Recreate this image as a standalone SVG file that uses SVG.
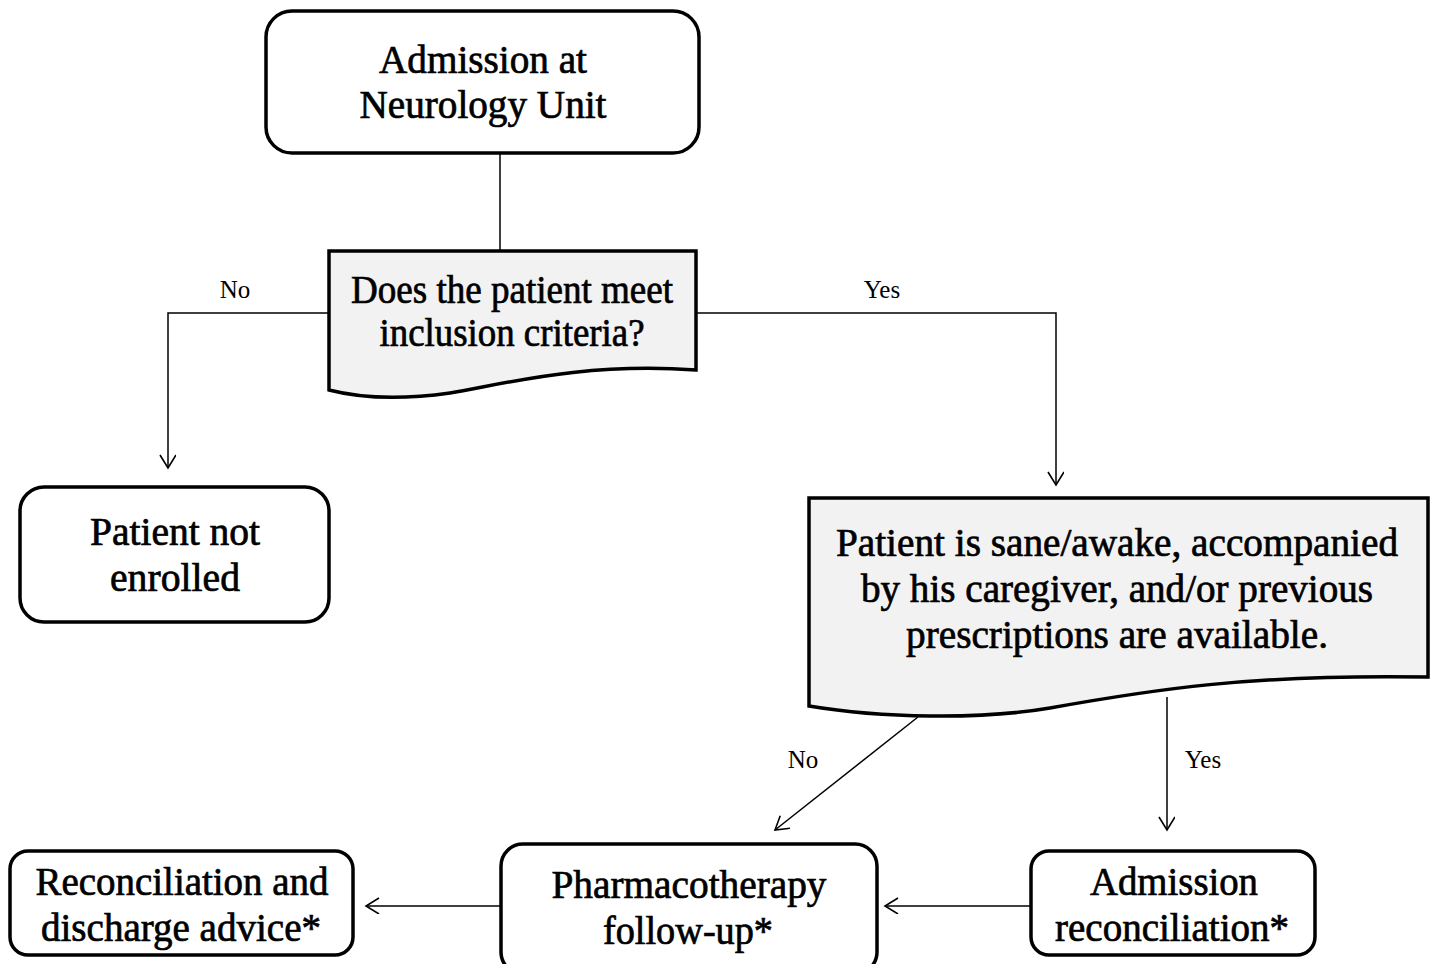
<svg xmlns="http://www.w3.org/2000/svg" width="1432" height="964" viewBox="0 0 1432 964">
<style>
.box{fill:#fff;stroke:#000;stroke-width:3.5}
.doc{fill:#f2f2f2;stroke:#000;stroke-width:3.5;stroke-linejoin:miter}
.t{font-family:"Liberation Serif","Times New Roman",serif;font-size:39px;fill:#000;stroke:#000;stroke-width:0.7;text-anchor:middle}
.l{font-family:"Liberation Serif","Times New Roman",serif;font-size:25px;fill:#000;text-anchor:middle}
.c{fill:none;stroke:#000;stroke-width:1.5}
</style>
<defs>
<marker id="ah" markerWidth="20" markerHeight="20" refX="15" refY="8" orient="auto" markerUnits="userSpaceOnUse">
<path d="M2,0 L15,8 L2,16" fill="none" stroke="#000" stroke-width="1.6"/>
</marker>
</defs>
<rect width="1432" height="964" fill="#fff"/>
<g id="connectors">
<line class="c" x1="500" y1="153" x2="500" y2="251"/>
<polyline class="c" points="329,313 168,313 168,468" marker-end="url(#ah)"/>
<polyline class="c" points="696,313 1056,313 1056,485" marker-end="url(#ah)"/>
<line class="c" x1="918" y1="717" x2="775" y2="830" marker-end="url(#ah)"/>
<line class="c" x1="1167" y1="697" x2="1167" y2="830" marker-end="url(#ah)"/>
<line class="c" x1="1031" y1="906" x2="885" y2="906" marker-end="url(#ah)"/>
<line class="c" x1="501" y1="906" x2="366" y2="906" marker-end="url(#ah)"/>
<text class="l" x="235" y="298">No</text>
<text class="l" x="882" y="298">Yes</text>
<text class="l" x="803" y="768">No</text>
<text class="l" x="1203" y="768">Yes</text>
</g>
<g id="admission">
<rect class="box" x="266" y="11" width="433" height="142" rx="26"/>
<text class="t" x="483" y="73" textLength="208" lengthAdjust="spacingAndGlyphs">Admission at</text>
<text class="t" x="483" y="118" textLength="247" lengthAdjust="spacingAndGlyphs">Neurology Unit</text>
</g>
<g id="decision">
<path class="doc" d="M329,251 H696 V370 C 580,362 500,385 450,393 C 400,400 360,398 329,390 Z"/>
<text class="t" x="512" y="303" textLength="322" lengthAdjust="spacingAndGlyphs">Does the patient meet</text>
<text class="t" x="512" y="346" textLength="265" lengthAdjust="spacingAndGlyphs">inclusion criteria?</text>
</g>
<g id="not-enrolled">
<rect class="box" x="20" y="487" width="309" height="135" rx="24"/>
<text class="t" x="175" y="545" textLength="170" lengthAdjust="spacingAndGlyphs">Patient not</text>
<text class="t" x="175" y="591" textLength="130" lengthAdjust="spacingAndGlyphs">enrolled</text>
</g>
<g id="condition">
<path class="doc" d="M809,498 H1428 V677 C 1250,674 1150,690 1050,708 C 980,720 880,718 809,706 Z"/>
<text class="t" x="1117" y="556" textLength="562" lengthAdjust="spacingAndGlyphs">Patient is sane/awake, accompanied</text>
<text class="t" x="1117" y="602" textLength="512" lengthAdjust="spacingAndGlyphs">by his caregiver, and/or previous</text>
<text class="t" x="1117" y="648" textLength="422" lengthAdjust="spacingAndGlyphs">prescriptions are available.</text>
</g>
<g id="discharge">
<rect class="box" x="10" y="851" width="343" height="104" rx="18"/>
<text class="t" x="182" y="895" textLength="293" lengthAdjust="spacingAndGlyphs">Reconciliation and</text>
<text class="t" x="181" y="941" textLength="280" lengthAdjust="spacingAndGlyphs">discharge advice*</text>
</g>
<g id="followup">
<rect class="box" x="501" y="844" width="376" height="130" rx="22"/>
<text class="t" x="689" y="898" textLength="275" lengthAdjust="spacingAndGlyphs">Pharmacotherapy</text>
<text class="t" x="688" y="944" textLength="170" lengthAdjust="spacingAndGlyphs">follow-up*</text>
</g>
<g id="adm-reconciliation">
<rect class="box" x="1031" y="851" width="284" height="104" rx="18"/>
<text class="t" x="1174" y="895" textLength="168" lengthAdjust="spacingAndGlyphs">Admission</text>
<text class="t" x="1172" y="941" textLength="234" lengthAdjust="spacingAndGlyphs">reconciliation*</text>
</g>
</svg>
